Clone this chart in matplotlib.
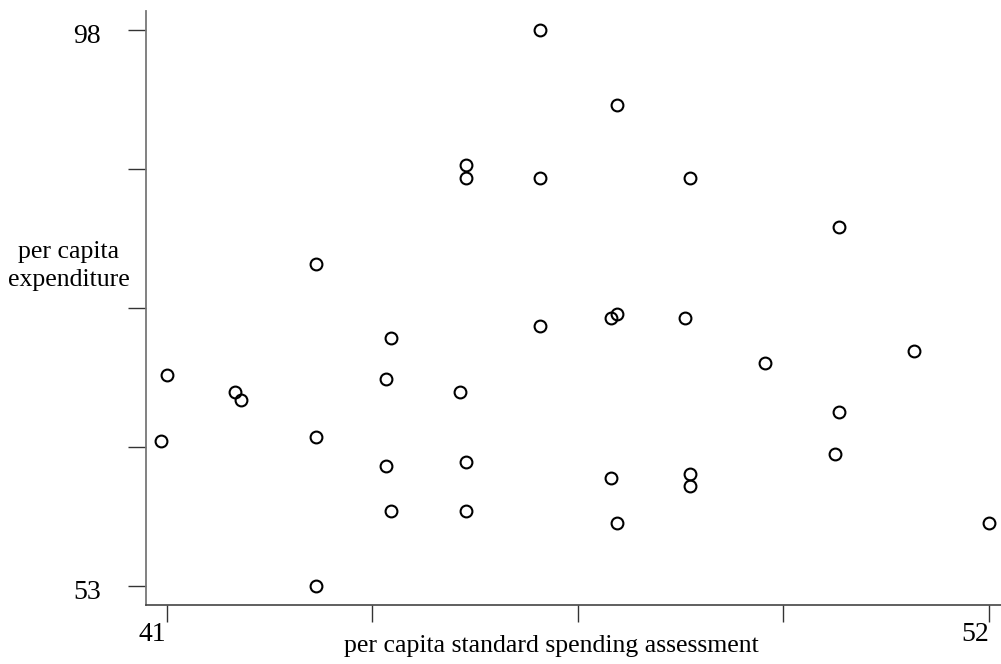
import numpy as np
import matplotlib.pyplot as plt
from matplotlib.transforms import ScaledTranslation

# per capita standard spending assessment vs per capita expenditure
ssa = [46.0, 47.02, 45.0, 45.0, 46.0, 48.0, 50.0, 43.0, 47.02, 46.94,
       47.94, 46.0, 44.0, 51.0, 49.0, 41.0, 43.93, 41.92, 44.93, 41.99,
       50.0, 40.92, 43.0, 49.94, 45.0, 43.93, 48.0, 46.94, 48.0, 44.0,
       45.0, 47.02, 52.0, 43.0]
expend = [98.0, 92.0, 87.07, 86.07, 86.07, 86.07, 82.07, 79.07, 75.07, 74.7,
          74.7, 74.07, 73.07, 72.07, 71.07, 70.07, 69.73, 68.7, 68.7, 68.07,
          67.07, 64.73, 65.07, 63.7, 63.07, 62.73, 62.07, 61.73, 61.07, 59.07,
          59.07, 58.07, 58.07, 53.0]

xticks = [41, 43.75, 46.5, 49.25, 52]
yticks = [53, 64.25, 75.5, 86.75, 98]
xlabs = ["41", "", "", "", "52"]
ylabs = ["53", "", "", "", "98"]

plt.rcParams['font.family'] = ['Liberation Serif', 'DejaVu Serif']

fig = plt.figure(figsize=(10.01, 6.64), dpi=100)
ax = fig.add_axes([145.5 / 1001, 1 - 605 / 664, (1001 - 145.5) / 1001, (605 - 10.5) / 664])

ax.plot(ssa, expend, 'o', ms=8.5, mfc='none', mec='black', mew=1.5, clip_on=False)

ax.set_xlim(40.719, 52.16)
ax.set_ylim(51.46, 99.62)
ax.spines['top'].set_visible(False)
ax.spines['right'].set_visible(False)
ax.spines['left'].set_color('#777777')
ax.spines['left'].set_linewidth(1.3)
ax.spines['bottom'].set_color('#444444')
ax.spines['bottom'].set_linewidth(1.2)

ax.set_xticks(xticks)
ax.set_xticklabels(xlabs, fontsize=20, ha='right')
ax.set_yticks(yticks)
ax.set_yticklabels(ylabs, fontsize=20, va='baseline')
ax.tick_params(axis='x', direction='out', length=12, width=1, color='#333333', pad=0)
ax.tick_params(axis='y', direction='out', length=13, width=1, color='#333333', pad=19)

# drop the y labels so the digits sit a little below their ticks
shift = ScaledTranslation(0, -13 / 100, fig.dpi_scale_trans)
for lab in ax.get_yticklabels():
    lab.set_transform(lab.get_transform() + shift)

fig.text(551 / 1001, 1 - 646 / 664, "per capita standard spending assessment",
         ha='center', va='center', fontsize=18.5)
fig.text(69 / 1001, 1 - 266 / 664, "per capita\nexpenditure",
         ha='center', va='center', fontsize=18.5, linespacing=1.4)

fig.savefig("out.png", dpi=100)
